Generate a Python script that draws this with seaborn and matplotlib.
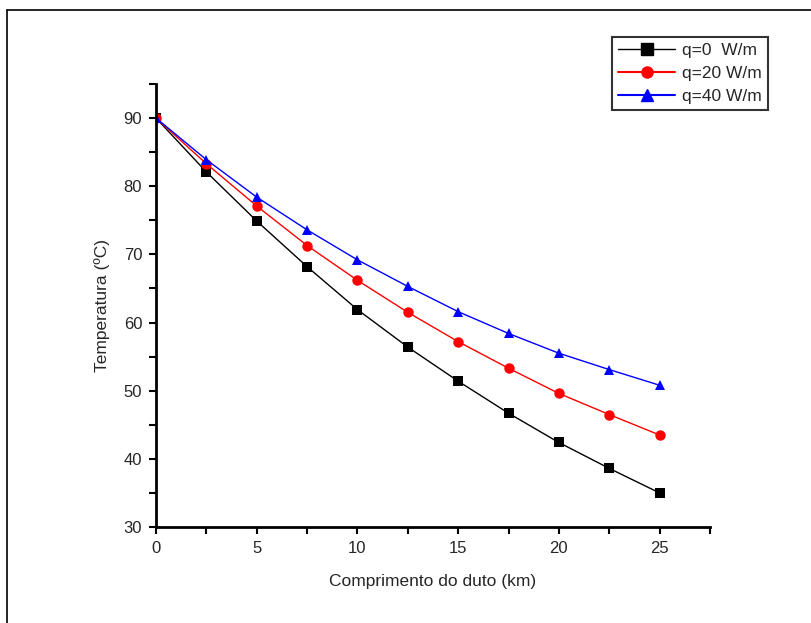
import matplotlib
matplotlib.use("Agg")
import matplotlib.pyplot as plt
from matplotlib.lines import Line2D
import seaborn as sns
import pandas as pd

# comprimento do duto (km)
x_km = [0, 2.5, 5, 7.5, 10, 12.5, 15, 17.5, 20, 22.5, 25]
# temperaturas
temp_q0 = [90, 82.1, 74.9, 68.2, 61.9, 56.4, 51.4, 46.7, 42.4, 38.6, 35.0]
temp_q20 = [90, 83.3, 77.1, 71.3, 66.2, 61.5, 57.2, 53.3, 49.6, 46.5, 43.5]
temp_q40 = [90, 83.9, 78.4, 73.6, 69.2, 65.3, 61.6, 58.4, 55.5, 53.1, 50.8]
labels = ["q=0  W/m", "q=20 W/m", "q=40 W/m"]

df = pd.DataFrame({
    "x": x_km * 3,
    "T": temp_q0 + temp_q20 + temp_q40,
    "serie": [labels[0]] * len(x_km) + [labels[1]] * len(x_km) + [labels[2]] * len(x_km),
})

sns.set_style("ticks")
plt.rcParams["font.family"] = ["Liberation Sans", "DejaVu Sans"]

fig = plt.figure(figsize=(8.11, 6.23), dpi=100)
ax = fig.add_axes([0.1924, 0.1541, 0.683, 0.711])

sns.lineplot(data=df, x="x", y="T", hue="serie", style="serie",
             palette=["black", "red", "blue"], markers=["s", "o", "^"],
             dashes=False, markersize=7.5, linewidth=1, markeredgewidth=0,
             ax=ax, legend=False)

ax.set_xlim(0, 27.5)
ax.set_ylim(30, 95)
ax.set_xticks([0, 5, 10, 15, 20, 25])
ax.set_xticks([2.5, 7.5, 12.5, 17.5, 22.5, 27.5], minor=True)
ax.set_yticks([30, 40, 50, 60, 70, 80, 90])
ax.set_yticks([35, 45, 55, 65, 75, 85, 95], minor=True)
ax.tick_params(which="major", length=5, width=1.5, labelsize=12, color="black", pad=5)
ax.tick_params(which="minor", length=5, width=1.5, color="black")
for s in ["left", "bottom"]:
    ax.spines[s].set_linewidth(2)
    ax.spines[s].set_color("black")
sns.despine(ax=ax)
ax.set_xlabel("Comprimento do duto (km)", fontsize=12.5, labelpad=13)
ax.set_ylabel("Temperatura (ºC)", fontsize=12.5, labelpad=10)

handles = [
    Line2D([], [], color="black", marker="s", markersize=8, lw=1),
    Line2D([], [], color="red", marker="o", markersize=8, lw=1.5),
    Line2D([], [], color="blue", marker="^", markersize=8, lw=1.5),
]
leg = fig.legend(handles, labels, loc="upper right", bbox_to_anchor=(768 / 811, 1 - 37 / 623),
                 fontsize=12.5, frameon=True, fancybox=False, borderpad=0.35,
                 handlelength=3.3, handletextpad=0.4, labelspacing=0.45, borderaxespad=0)
leg.get_frame().set_edgecolor("black")
leg.get_frame().set_linewidth(1.5)

# moldura da figura (topo e esquerda)
fig.add_artist(Line2D([7 / 811, 7 / 811], [0, 1 - 10 / 623], color="black", lw=1.2))
fig.add_artist(Line2D([7 / 811, 1], [1 - 10 / 623, 1 - 10 / 623], color="black", lw=1.2))

fig.savefig("out.png", dpi=100)
